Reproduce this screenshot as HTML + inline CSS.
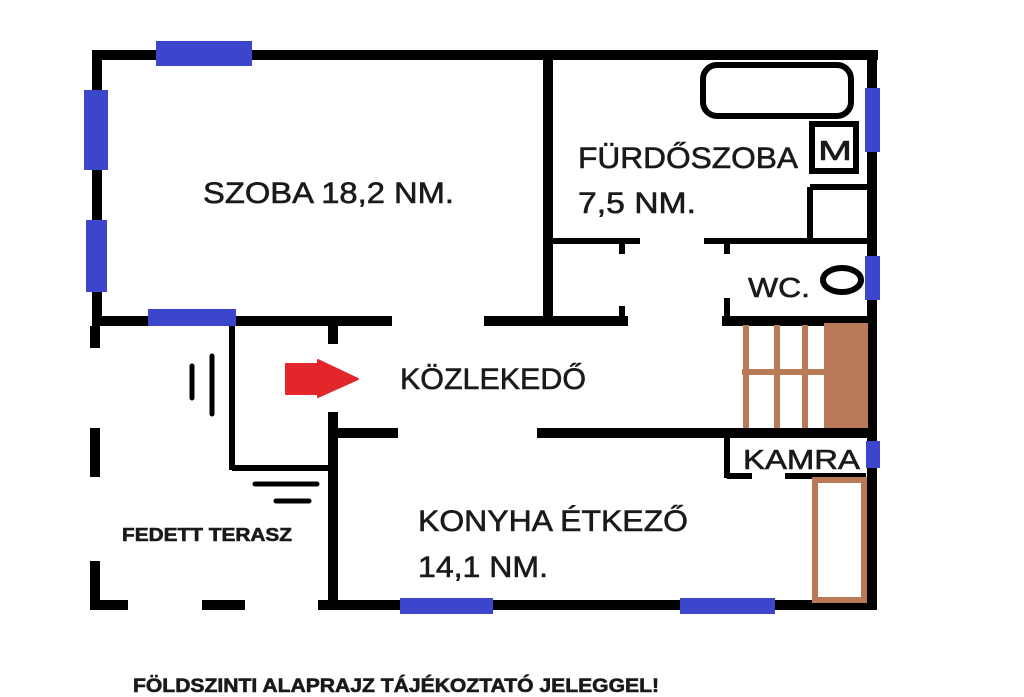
<!DOCTYPE html>
<html><head><meta charset="utf-8"><style>
html,body{margin:0;padding:0;background:#fff;}
svg{display:block;}
text{font-family:"Liberation Sans",sans-serif;fill:#1a1a1a;stroke:#1a1a1a;stroke-width:0.6;}
</style></head><body>
<svg width="1024" height="697" viewBox="0 0 1024 697" xmlns="http://www.w3.org/2000/svg">
<rect width="1024" height="697" fill="#fff"/>
<g stroke="#000" stroke-width="10" fill="none" stroke-linecap="butt">
  <line x1="92" y1="55" x2="878" y2="55"/>
  <line x1="97" y1="50" x2="97" y2="326"/>
  <line x1="872" y1="50" x2="872" y2="610"/>
  <line x1="548" y1="55" x2="548" y2="321"/>
  <line x1="92" y1="321" x2="392" y2="321"/>
  <line x1="484" y1="321" x2="628" y2="321"/>
  <line x1="722" y1="321" x2="876" y2="321"/>
  <line x1="333" y1="433" x2="398" y2="433"/>
  <line x1="537" y1="433" x2="877" y2="433"/>
  <line x1="333" y1="326" x2="333" y2="344"/>
  <line x1="333" y1="412" x2="333" y2="610"/>
  <line x1="328" y1="605" x2="876" y2="605"/>
  <line x1="95" y1="326" x2="95" y2="348"/>
  <line x1="95" y1="428" x2="95" y2="477"/>
  <line x1="95" y1="561" x2="95" y2="610"/>
  <line x1="90" y1="605" x2="128" y2="605"/>
  <line x1="202" y1="605" x2="245" y2="605"/>
  <line x1="318" y1="605" x2="333" y2="605"/>
</g>
<g stroke="#000" stroke-width="6" fill="none">
  <line x1="548" y1="241" x2="640" y2="241"/>
  <line x1="704" y1="241" x2="872" y2="241"/>
  <line x1="622" y1="241" x2="622" y2="254"/>
  <line x1="727" y1="241" x2="727" y2="254"/>
  <line x1="622" y1="306" x2="622" y2="320"/>
  <line x1="727" y1="298" x2="727" y2="320"/>
  <line x1="232" y1="321" x2="232" y2="470"/>
  <line x1="232" y1="468" x2="333" y2="468"/>
  <line x1="727" y1="433" x2="727" y2="478"/>
  <line x1="727" y1="476" x2="752" y2="476"/>
  <line x1="785" y1="476" x2="866" y2="476"/>
  <line x1="810" y1="187" x2="870" y2="187"/>
  <line x1="810" y1="187" x2="810" y2="241"/>
  <rect x="812" y="124" width="44" height="47"/>
  <rect x="703" y="65" width="148" height="51" rx="14"/>
  <ellipse cx="842" cy="280" rx="19" ry="12"/>
</g>
<g stroke="#000" stroke-width="5" stroke-linecap="round">
  <line x1="192" y1="366" x2="192" y2="398"/>
  <line x1="212" y1="356" x2="212" y2="414"/>
  <line x1="255" y1="484" x2="317" y2="484"/>
  <line x1="276" y1="501" x2="309" y2="501"/>
</g>
<g fill="#3c46cc">
  <rect x="156" y="41" width="96" height="25"/>
  <rect x="84" y="90" width="24" height="80"/>
  <rect x="86" y="220" width="21" height="72"/>
  <rect x="148" y="309" width="88" height="17"/>
  <rect x="865" y="88" width="15" height="64"/>
  <rect x="865" y="256" width="15" height="44"/>
  <rect x="866" y="441" width="14" height="27"/>
  <rect x="400" y="598" width="93" height="16"/>
  <rect x="680" y="598" width="95" height="16"/>
</g>
<g stroke="#b97a57" stroke-width="6" fill="none">
  <line x1="746" y1="325" x2="746" y2="428"/>
  <line x1="777" y1="325" x2="777" y2="428"/>
  <line x1="805" y1="325" x2="805" y2="428"/>
  <line x1="742" y1="372" x2="826" y2="372"/>
  <rect x="815" y="480" width="49" height="120"/>
</g>
<rect x="824" y="323" width="44" height="105" fill="#b97a57"/>
<path d="M286 364 L318 364 L318 360 L358 379 L318 397 L318 394 L286 394 Z" fill="#e3262a" stroke="#e3262a" stroke-width="2" stroke-linejoin="round"/>
<text x="203" y="203" font-size="30" textLength="251" lengthAdjust="spacingAndGlyphs">SZOBA 18,2 NM.</text>
<text x="578" y="168" font-size="30" textLength="220" lengthAdjust="spacingAndGlyphs">FÜRDŐSZOBA</text>
<text x="578" y="213" font-size="30" textLength="118" lengthAdjust="spacingAndGlyphs">7,5 NM.</text>
<text x="818" y="160" font-size="28" textLength="34" lengthAdjust="spacingAndGlyphs">M</text>
<text x="748" y="297" font-size="28" textLength="62" lengthAdjust="spacingAndGlyphs">WC.</text>
<text x="400" y="389" font-size="30" textLength="186" lengthAdjust="spacingAndGlyphs">KÖZLEKEDŐ</text>
<text x="743" y="469" font-size="28" textLength="117" lengthAdjust="spacingAndGlyphs">KAMRA</text>
<text x="418" y="531" font-size="30" textLength="270" lengthAdjust="spacingAndGlyphs">KONYHA ÉTKEZŐ</text>
<text x="418" y="577" font-size="30" textLength="130" lengthAdjust="spacingAndGlyphs">14,1 NM.</text>
<text x="122" y="541" font-size="18" font-weight="bold" stroke-width="0" textLength="170" lengthAdjust="spacingAndGlyphs">FEDETT TERASZ</text>
<text x="133" y="692" font-size="19" font-weight="bold" stroke-width="0" textLength="526" lengthAdjust="spacingAndGlyphs">FÖLDSZINTI ALAPRAJZ TÁJÉKOZTATÓ JELEGGEL!</text>
</svg>
</body></html>
